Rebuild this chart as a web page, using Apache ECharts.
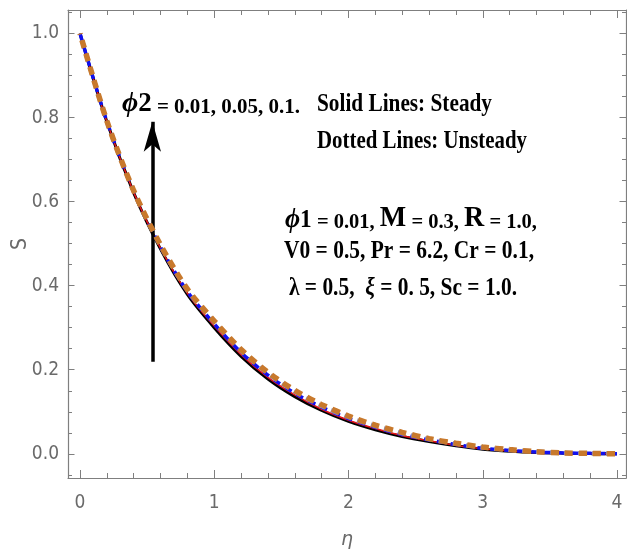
<!DOCTYPE html>
<html>
<head>
<meta charset="utf-8">
<script src="https://cdn.jsdelivr.net/npm/echarts@6/dist/echarts.min.js"></script>
<style>html,body{margin:0;padding:0;background:#fff}#c{width:627px;height:552px}</style>
</head>
<body>
<div id="c"></div>
<script>
// ---- data ----
const eta = [0,0.2,0.4,0.6,0.8,1.0,1.2,1.4,1.6,1.8,2.0,2.2,2.4,2.6,2.8,3.0,3.2,3.4,3.6,3.8,4.0];
const steadyA = [1.000,0.790,0.621,0.487,0.379,0.300,0.232,0.178,0.136,0.103,0.077,0.057,0.041,0.029,0.019,0.011,0.006,0.003,0.0015,0.0005,0];
const steadyB = [1.000,0.790,0.622,0.489,0.382,0.304,0.236,0.182,0.140,0.106,0.080,0.060,0.043,0.031,0.020,0.012,0.007,0.003,0.0015,0.0005,0];
const unsteadyA = [1.000,0.791,0.624,0.492,0.386,0.309,0.241,0.187,0.144,0.111,0.084,0.063,0.046,0.033,0.022,0.013,0.008,0.004,0.002,0.001,0];
const unsteadyB = [1.000,0.791,0.625,0.495,0.389,0.313,0.245,0.191,0.148,0.114,0.087,0.066,0.049,0.035,0.024,0.015,0.009,0.005,0.002,0.001,0];
const unsteadyC = [1.000,0.792,0.626,0.497,0.392,0.316,0.248,0.194,0.151,0.117,0.090,0.068,0.051,0.036,0.025,0.016,0.010,0.005,0.002,0.001,0];
const xTicks = [0,1,2,3,4];
const xMinorTicks = [0.2,0.4,0.6,0.8,1.2,1.4,1.6,1.8,2.2,2.4,2.6,2.8,3.2,3.4,3.6,3.8];
const yTicks = [0,0.2,0.4,0.6,0.8,1.0];
const yMinorTicks = [-0.05,0.05,0.1,0.15,0.25,0.3,0.35,0.45,0.5,0.55,0.65,0.7,0.75,0.85,0.9,0.95,1.05];
const arrowX = 0.539, arrowFrom = 0.219, arrowTo = 0.79;

// ---- layout ----
const X_MIN = -0.0894, X_MAX = 4.067, Y_MIN = -0.0576, Y_MAX = 1.056;
const frameColor = '#7f7f7f';
const labelColor = '#6a6a6a';
const labelFont = '"DejaVu Sans Condensed", "Liberation Sans", sans-serif';
const serif = '"Liberation Serif", "DejaVu Serif", serif';

const chart = echarts.init(document.getElementById('c'), null, {renderer: 'canvas'});
const pts = arr => eta.map((x, i) => [x, arr[i]]);

const mctx = document.createElement('canvas').getContext('2d');
function tw(t, font) { mctx.font = font; return mctx.measureText(t).width; }
function line(parts, x0, x1, baseline) {
  let total = 0, txt = '', rich = {}, maxFs = 0;
  parts.forEach((p, i) => {
    const font = p[1] + ' ' + p[2] + 'px ' + serif;
    total += tw(p[0], font);
    maxFs = Math.max(maxFs, p[2]);
    rich['t' + i] = {font: font, fill: '#000', verticalAlign: 'bottom', lineHeight: p[2] * 1.1, padding: 0};
    txt += '{t' + i + '|' + p[0] + '}';
  });
  return {type: 'text', x: x0, y: baseline + 0.25 * maxFs, scaleX: (x1 - x0) / total, silent: true, z: 100,
    style: {text: txt, rich: rich, x: 0, y: 0, verticalAlign: 'bottom', align: 'left'}};
}

function xAxisDef(pos, showLine, showLabel, len, vals) {
  return {type: 'value', position: pos, min: X_MIN, max: X_MAX,
    axisLine: {show: showLine, onZero: false, lineStyle: {color: frameColor, width: 1.2}},
    axisTick: {show: true, inside: true, length: len, customValues: vals, lineStyle: {color: frameColor, width: 1}},
    axisLabel: {show: showLabel, customValues: vals, formatter: v => String(v), color: labelColor,
      fontFamily: labelFont, fontSize: 19, margin: 16},
    splitLine: {show: false}};
}
function yAxisDef(pos, showLine, showLabel, len, vals) {
  return {type: 'value', position: pos, min: Y_MIN, max: Y_MAX,
    axisLine: {show: showLine, onZero: false, lineStyle: {color: frameColor, width: 1.2}},
    axisTick: {show: true, inside: true, length: len, customValues: vals, lineStyle: {color: frameColor, width: 1}},
    axisLabel: {show: showLabel, customValues: vals, formatter: v => v.toFixed(1), color: labelColor,
      fontFamily: labelFont, fontSize: 19, margin: 9},
    splitLine: {show: false}};
}

const xA = [
  xAxisDef('bottom', true, true, 8, xTicks),
  xAxisDef('bottom', false, false, 5, xMinorTicks),
  xAxisDef('top', true, false, 8, xTicks),
  xAxisDef('top', false, false, 5, xMinorTicks)
];
Object.assign(xA[0], {name: 'η', nameLocation: 'middle', nameGap: 53, nameMoveOverlap: false,
  nameTextStyle: {color: labelColor, fontFamily: '"DejaVu Sans", sans-serif', fontStyle: 'italic', fontSize: 19}});
const yA = [
  yAxisDef('left', true, true, 6.5, yTicks),
  yAxisDef('left', false, false, 4, yMinorTicks),
  yAxisDef('right', true, false, 6.5, yTicks),
  yAxisDef('right', false, false, 4, yMinorTicks)
];
Object.assign(yA[0], {name: 'S', nameLocation: 'middle', nameGap: 37, nameMoveOverlap: false,
  nameTextStyle: {color: labelColor, fontFamily: labelFont, fontSize: 21}});

function ser(name, arr, color, width, dash, offset, z) {
  return {name: name, type: 'line', xAxisIndex: 0, yAxisIndex: 0, data: pts(arr), smooth: 0.3, symbol: 'none',
    z: z, lineStyle: {color: color, width: width, type: dash || 'solid', dashOffset: offset || 0, cap: 'butt'},
    emphasis: {disabled: true}};
}

const series = [
  ser('Steady A', steadyA, '#000000', 3, null, 0, 2),
  ser('Steady B', steadyB, '#e8141b', 1.5, null, 0, 3),
  ser('Unsteady A', unsteadyA, '#1010f0', 3.5, [7, 6.5], 0, 4),
  ser('Unsteady B', unsteadyB, '#8f88a6', 4.5, [8, 6], 7, 5),
  ser('Unsteady C', unsteadyC, '#c8792c', 5.5, [8, 6], 7, 6)
];
series[0].markLine = {silent: true, symbol: ['none', 'arrow'], symbolSize: [13, 30], animation: false,
  label: {show: false}, lineStyle: {color: '#000', width: 3.5, type: 'solid'},
  data: [[{coord: [arrowX, arrowFrom]}, {coord: [arrowX, arrowTo]}]]};

const graphics = [
  line([['ϕ', 'italic bold', 28], ['2', 'bold', 27], [' = 0.01, 0.05, 0.1.', 'bold', 21]], 122, 300, 111),
  line([['Solid Lines: Steady', 'bold', 26]], 317, 492, 111),
  line([['Dotted Lines: Unsteady', 'bold', 26]], 317, 527, 148),
  line([['ϕ', 'italic bold', 28], ['1', 'bold', 25], [' = 0.01, ', 'bold', 22], ['M', 'bold', 30], [' = 0.3, ', 'bold', 22], ['R', 'bold', 30], [' = 1.0,', 'bold', 22]], 285, 537, 226),
  line([['V0 = 0.5, Pr = 6.2, Cr = 0.1,', 'bold', 26]], 284, 534, 258),
  line([['λ = 0.5,  ', 'bold', 26], ['ξ', 'italic bold', 26], [' = 0. 5, Sc = 1.0.', 'bold', 26]], 289, 517, 295)
];

chart.setOption({
  animation: false,
  backgroundColor: '#ffffff',
  grid: {left: 68, right: 1, top: 10, bottom: 74, containLabel: false, outerBoundsMode: 'none'},
  xAxis: xA,
  yAxis: yA,
  series: series,
  graphic: graphics
});
</script>
</body>
</html>
